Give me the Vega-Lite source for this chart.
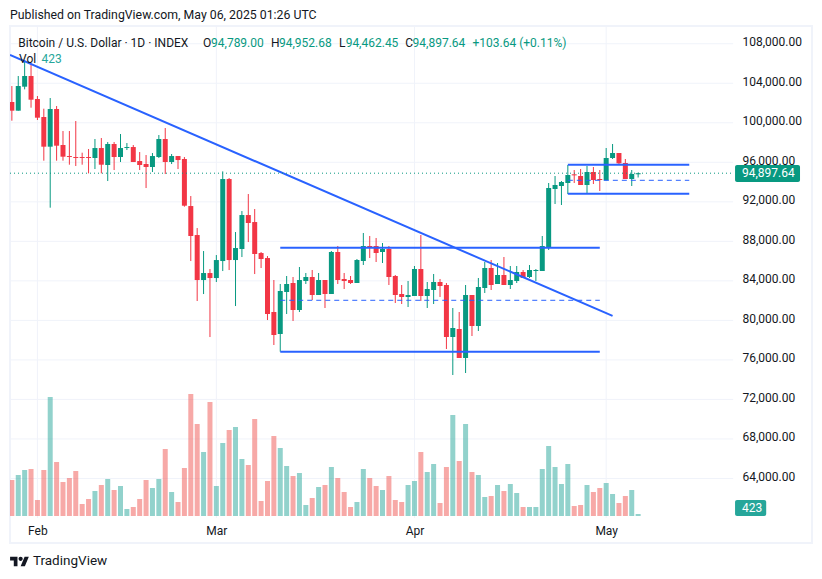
{
  "$schema": "https://vega.github.io/schema/vega-lite/v6.json",
  "width": 802,
  "height": 517,
  "padding": {"left": 10, "top": 26, "right": 10, "bottom": 36},
  "autosize": {"type": "none"},
  "background": "#ffffff",
  "config": {
    "view": {"stroke": "#f0f3fa", "strokeWidth": 2},
    "font": "Roboto",
    "text": {"font": "Roboto"}
  },
  "title": {"text": "Published on TradingView.com, May 06, 2025 01:26 UTC", "anchor": "start", "frame": "group", "offset": 4, "fontSize": 12.3, "fontWeight": "normal", "font": "Roboto", "color": "#131722"},
  "datasets": {
    "candles": [
      {"date":"2025-01-28","open":102101,"high":103721,"low":100212,"close":101224,"volume":7614,"dir":"down"},
      {"date":"2025-01-29","open":101224,"high":104733,"low":101224,"close":103721,"volume":8672,"dir":"up"},
      {"date":"2025-01-30","open":103653,"high":106352,"low":103383,"close":104733,"volume":9729,"dir":"up"},
      {"date":"2025-01-31","open":104733,"high":106015,"low":101528,"close":102337,"volume":9941,"dir":"down"},
      {"date":"2025-02-01","open":102405,"high":102708,"low":100279,"close":100515,"volume":3384,"dir":"down"},
      {"date":"2025-02-02","open":100583,"high":101426,"low":96163,"close":97580,"volume":9729,"dir":"down"},
      {"date":"2025-02-03","open":97580,"high":102506,"low":91406,"close":101393,"volume":25169,"dir":"up"},
      {"date":"2025-02-04","open":101393,"high":101696,"low":96163,"close":97681,"volume":11421,"dir":"down"},
      {"date":"2025-02-05","open":97749,"high":99166,"low":96163,"close":96568,"volume":7191,"dir":"down"},
      {"date":"2025-02-06","open":96635,"high":99166,"low":95758,"close":96534,"volume":8037,"dir":"down"},
      {"date":"2025-02-07","open":96534,"high":100178,"low":95623,"close":96433,"volume":9518,"dir":"down"},
      {"date":"2025-02-08","open":96534,"high":96973,"low":95758,"close":96433,"volume":2538,"dir":"down"},
      {"date":"2025-02-09","open":96534,"high":97344,"low":94881,"close":96433,"volume":3596,"dir":"down"},
      {"date":"2025-02-10","open":96433,"high":98356,"low":95319,"close":97445,"volume":5288,"dir":"up"},
      {"date":"2025-02-11","open":97445,"high":98457,"low":94881,"close":95758,"volume":6557,"dir":"down"},
      {"date":"2025-02-12","open":95724,"high":98052,"low":94105,"close":97850,"volume":7826,"dir":"up"},
      {"date":"2025-02-13","open":97850,"high":98052,"low":95218,"close":96534,"volume":5499,"dir":"down"},
      {"date":"2025-02-14","open":96534,"high":98862,"low":96028,"close":97445,"volume":6345,"dir":"up"},
      {"date":"2025-02-15","open":97445,"high":97951,"low":97243,"close":97546,"volume":1481,"dir":"up"},
      {"date":"2025-02-16","open":97546,"high":97749,"low":96028,"close":96028,"volume":1904,"dir":"down"},
      {"date":"2025-02-17","open":96129,"high":97040,"low":95218,"close":95724,"volume":3596,"dir":"down"},
      {"date":"2025-02-18","open":95826,"high":96737,"low":93396,"close":95522,"volume":7614,"dir":"down"},
      {"date":"2025-02-19","open":95522,"high":96939,"low":95016,"close":96635,"volume":5922,"dir":"up"},
      {"date":"2025-02-20","open":96534,"high":98761,"low":96433,"close":98356,"volume":7826,"dir":"up"},
      {"date":"2025-02-21","open":98356,"high":99469,"low":94813,"close":96028,"volume":14171,"dir":"down"},
      {"date":"2025-02-22","open":96028,"high":96838,"low":95826,"close":96635,"volume":5076,"dir":"up"},
      {"date":"2025-02-23","open":96635,"high":96635,"low":95319,"close":96230,"volume":2961,"dir":"down"},
      {"date":"2025-02-24","open":96332,"high":96534,"low":91507,"close":91608,"volume":10152,"dir":"down"},
      {"date":"2025-02-25","open":91574,"high":92586,"low":86007,"close":88538,"volume":25803,"dir":"down"},
      {"date":"2025-02-26","open":88639,"high":89347,"low":81959,"close":84084,"volume":19458,"dir":"down"},
      {"date":"2025-02-27","open":84084,"high":87019,"low":82667,"close":84793,"volume":13536,"dir":"up"},
      {"date":"2025-02-28","open":84793,"high":85197,"low":78314,"close":84286,"volume":24111,"dir":"down"},
      {"date":"2025-03-01","open":84286,"high":86614,"low":83882,"close":86108,"volume":6345,"dir":"up"},
      {"date":"2025-03-02","open":86007,"high":95083,"low":84995,"close":94307,"volume":15440,"dir":"up"},
      {"date":"2025-03-03","open":94307,"high":94408,"low":85096,"close":86108,"volume":18189,"dir":"down"},
      {"date":"2025-03-04","open":86108,"high":88943,"low":81452,"close":87323,"volume":18824,"dir":"up"},
      {"date":"2025-03-05","open":87222,"high":91068,"low":86412,"close":90663,"volume":12056,"dir":"up"},
      {"date":"2025-03-06","open":90663,"high":92789,"low":87930,"close":89854,"volume":10787,"dir":"down"},
      {"date":"2025-03-07","open":89955,"high":91271,"low":84691,"close":86716,"volume":20516,"dir":"down"},
      {"date":"2025-03-08","open":86817,"high":86918,"low":85299,"close":86210,"volume":3173,"dir":"down"},
      {"date":"2025-03-09","open":86311,"high":86513,"low":80035,"close":80643,"volume":7403,"dir":"down"},
      {"date":"2025-03-10","open":80848,"high":84087,"low":77508,"close":78520,"volume":16920,"dir":"down"},
      {"date":"2025-03-11","open":78622,"high":83683,"low":76833,"close":82974,"volume":14382,"dir":"up"},
      {"date":"2025-03-12","open":82873,"high":84492,"low":80646,"close":83683,"volume":10575,"dir":"up"},
      {"date":"2025-03-13","open":83784,"high":84391,"low":79937,"close":81051,"volume":8460,"dir":"down"},
      {"date":"2025-03-14","open":81051,"high":85403,"low":80848,"close":84087,"volume":9095,"dir":"up"},
      {"date":"2025-03-15","open":83986,"high":84796,"low":83683,"close":84391,"volume":2327,"dir":"up"},
      {"date":"2025-03-16","open":84391,"high":85100,"low":82063,"close":82569,"volume":3807,"dir":"down"},
      {"date":"2025-03-17","open":82569,"high":84796,"low":82569,"close":84087,"volume":6134,"dir":"up"},
      {"date":"2025-03-18","open":84087,"high":84087,"low":81253,"close":82670,"volume":6557,"dir":"down"},
      {"date":"2025-03-19","open":82670,"high":87023,"low":82670,"close":86922,"volume":10364,"dir":"up"},
      {"date":"2025-03-20","open":86922,"high":87529,"low":83683,"close":84087,"volume":8037,"dir":"down"},
      {"date":"2025-03-21","open":84189,"high":84796,"low":83176,"close":83986,"volume":5076,"dir":"down"},
      {"date":"2025-03-22","open":84087,"high":84492,"low":83683,"close":83784,"volume":1904,"dir":"down"},
      {"date":"2025-03-23","open":83784,"high":86213,"low":83784,"close":86112,"volume":2961,"dir":"up"},
      {"date":"2025-03-24","open":86011,"high":88845,"low":85606,"close":87529,"volume":9941,"dir":"up"},
      {"date":"2025-03-25","open":87529,"high":88541,"low":86314,"close":87394,"volume":8037,"dir":"down"},
      {"date":"2025-03-26","open":87529,"high":88339,"low":85909,"close":86820,"volume":6345,"dir":"down"},
      {"date":"2025-03-27","open":86922,"high":87833,"low":85808,"close":87225,"volume":5499,"dir":"up"},
      {"date":"2025-03-28","open":87225,"high":87529,"low":83581,"close":84391,"volume":8460,"dir":"down"},
      {"date":"2025-03-29","open":84492,"high":84593,"low":81759,"close":82569,"volume":3384,"dir":"down"},
      {"date":"2025-03-30","open":82670,"high":83581,"low":81658,"close":82367,"volume":2961,"dir":"down"},
      {"date":"2025-03-31","open":82367,"high":83986,"low":81354,"close":82569,"volume":6557,"dir":"up"},
      {"date":"2025-04-01","open":82468,"high":85504,"low":82468,"close":85201,"volume":7403,"dir":"up"},
      {"date":"2025-04-02","open":85201,"high":88642,"low":81962,"close":82468,"volume":13536,"dir":"down"},
      {"date":"2025-04-03","open":82468,"high":83885,"low":81253,"close":83176,"volume":9306,"dir":"up"},
      {"date":"2025-04-04","open":83075,"high":84695,"low":81658,"close":83885,"volume":10998,"dir":"up"},
      {"date":"2025-04-05","open":83885,"high":84189,"low":82367,"close":83480,"volume":2750,"dir":"down"},
      {"date":"2025-04-06","open":83581,"high":83784,"low":77103,"close":78318,"volume":10364,"dir":"down"},
      {"date":"2025-04-07","open":78318,"high":81253,"low":74471,"close":79229,"volume":21362,"dir":"up"},
      {"date":"2025-04-08","open":79128,"high":80848,"low":76192,"close":76192,"volume":11633,"dir":"down"},
      {"date":"2025-04-09","open":76192,"high":83581,"low":74674,"close":82569,"volume":19458,"dir":"up"},
      {"date":"2025-04-10","open":82569,"high":82569,"low":78419,"close":79431,"volume":9306,"dir":"down"},
      {"date":"2025-04-11","open":79431,"high":84290,"low":78925,"close":83379,"volume":8672,"dir":"up"},
      {"date":"2025-04-12","open":83278,"high":85909,"low":82772,"close":85302,"volume":4019,"dir":"up"},
      {"date":"2025-04-13","open":85302,"high":86112,"low":83075,"close":83581,"volume":4230,"dir":"down"},
      {"date":"2025-04-14","open":83683,"high":85808,"low":83683,"close":84593,"volume":6557,"dir":"up"},
      {"date":"2025-04-15","open":84593,"high":86415,"low":83581,"close":83581,"volume":5288,"dir":"down"},
      {"date":"2025-04-16","open":83580,"high":85503,"low":83175,"close":84086,"volume":6768,"dir":"up"},
      {"date":"2025-04-17","open":83985,"high":85503,"low":83782,"close":84896,"volume":4865,"dir":"up"},
      {"date":"2025-04-18","open":84896,"high":85098,"low":84288,"close":84288,"volume":1904,"dir":"down"},
      {"date":"2025-04-19","open":84390,"high":85604,"low":84288,"close":85098,"volume":1904,"dir":"up"},
      {"date":"2025-04-20","open":84997,"high":85199,"low":83985,"close":85098,"volume":1904,"dir":"up"},
      {"date":"2025-04-21","open":84997,"high":88540,"low":84997,"close":87527,"volume":9941,"dir":"up"},
      {"date":"2025-04-22","open":87325,"high":93904,"low":87123,"close":93398,"volume":14805,"dir":"up"},
      {"date":"2025-04-23","open":93297,"high":94613,"low":91779,"close":93702,"volume":10364,"dir":"up"},
      {"date":"2025-04-24","open":93601,"high":94107,"low":91678,"close":94006,"volume":6768,"dir":"up"},
      {"date":"2025-04-25","open":93904,"high":95726,"low":92791,"close":94714,"volume":10998,"dir":"up"},
      {"date":"2025-04-26","open":94782,"high":95220,"low":93904,"close":94680,"volume":2115,"dir":"down"},
      {"date":"2025-04-27","open":94613,"high":95321,"low":93702,"close":93702,"volume":2327,"dir":"down"},
      {"date":"2025-04-28","open":93702,"high":95625,"low":92892,"close":95018,"volume":6557,"dir":"up"},
      {"date":"2025-04-29","open":95018,"high":95524,"low":93803,"close":94208,"volume":5076,"dir":"down"},
      {"date":"2025-04-30","open":94309,"high":95220,"low":93095,"close":94208,"volume":5922,"dir":"down"},
      {"date":"2025-05-01","open":94174,"high":97447,"low":94174,"close":96435,"volume":6980,"dir":"up"},
      {"date":"2025-05-02","open":96435,"high":97852,"low":96334,"close":96941,"volume":4653,"dir":"up"},
      {"date":"2025-05-03","open":96941,"high":96941,"low":95726,"close":95895,"volume":2750,"dir":"down"},
      {"date":"2025-05-04","open":95929,"high":96334,"low":94309,"close":94309,"volume":4230,"dir":"down"},
      {"date":"2025-05-05","open":94309,"high":95220,"low":93601,"close":94815,"volume":5499,"dir":"up"},
      {"date":"2025-05-06","open":94789,"high":94952.68,"low":94462.45,"close":94897.64,"volume":423,"dir":"up"}
    ],
    "grid": [
      {"price":108000},{"price":104000},{"price":100000},{"price":96000},{"price":92000},{"price":88000},
      {"price":84000},{"price":80000},{"price":76000},{"price":72000},{"price":68000},{"price":64000}
    ],
    "months": [{"date":"2025-02-01"},{"date":"2025-03-01"},{"date":"2025-04-01"},{"date":"2025-05-01"}],
    "solid_lines": [
      {"start":"2025-01-27T17:00:00Z","end":"2025-05-02T00:00:00Z","from":106859,"to":80450},
      {"start":"2025-03-11T00:00:00Z","end":"2025-04-30T00:00:00Z","from":87358,"to":87358},
      {"start":"2025-03-11T00:00:00Z","end":"2025-04-30T00:00:00Z","from":76833,"to":76833},
      {"start":"2025-04-25T00:00:00Z","end":"2025-05-14T00:00:00Z","from":95757,"to":95757},
      {"start":"2025-04-25T00:00:00Z","end":"2025-05-14T00:00:00Z","from":92822,"to":92822}
    ],
    "dashed_lines": [
      {"start":"2025-03-11T00:00:00Z","end":"2025-04-30T00:00:00Z","from":82034,"to":82034},
      {"start":"2025-04-25T00:00:00Z","end":"2025-05-14T00:00:00Z","from":94178,"to":94178}
    ],
    "header": [
      {"label":"Bitcoin / U.S. Dollar · 1D · INDEX","date":"2025-01-29T00:00:00Z","price":108074,"tone":"ink"},
      {"label":"O","date":"2025-02-26T22:00:00Z","price":108074,"tone":"ink"},
      {"label":"94,789.00","date":"2025-02-28T04:00:00Z","price":108074,"tone":"value"},
      {"label":"H","date":"2025-03-09T13:00:00Z","price":108074,"tone":"ink"},
      {"label":"94,952.68","date":"2025-03-10T19:00:00Z","price":108074,"tone":"value"},
      {"label":"L","date":"2025-03-20T05:00:00Z","price":108074,"tone":"ink"},
      {"label":"94,462.45","date":"2025-03-21T05:30:00Z","price":108074,"tone":"value"},
      {"label":"C","date":"2025-03-30T13:00:00Z","price":108074,"tone":"ink"},
      {"label":"94,897.64","date":"2025-03-31T17:00:00Z","price":108074,"tone":"value"},
      {"label":"+103.64 (+0.11%)","date":"2025-04-10T02:00:00Z","price":108074,"tone":"value"},
      {"label":"Vol","date":"2025-01-29T03:00:00Z","price":106454,"tone":"ink"},
      {"label":"423","date":"2025-02-01T15:00:00Z","price":106454,"tone":"vol"}
    ]
  },
  "encoding": {
    "x": {
      "type": "temporal",
      "scale": {
        "type": "utc",
        "padding": 0,
        "domain": [
          {"year": 2025, "month": 1, "date": 27, "hours": 17, "utc": true},
          {"year": 2025, "month": 6, "date": 2, "hours": 5, "utc": true}
        ]
      },
      "axis": {
        "orient": "bottom", "offset": -24, "values": [
          {"year": 2025, "month": 2, "date": 1, "utc": true},
          {"year": 2025, "month": 3, "date": 1, "utc": true},
          {"year": 2025, "month": 4, "date": 1, "utc": true},
          {"year": 2025, "month": 5, "date": 1, "utc": true}
        ],
        "format": "%b", "grid": false, "domain": false, "ticks": false, "title": null, "labelPadding": 6,
        "labelFontSize": 12, "labelColor": "#131722", "labelFont": "Roboto", "labelAngle": 0
      }
    }
  },
  "layer": [
    {
      "encoding": {
        "y": {"type": "quantitative", "scale": {"domain": [57468, 109796]}, "axis": null}
      },
      "layer": [
        {
          "data": {"name": "months"},
          "mark": {"type": "rule", "color": "#f0f3fa", "strokeWidth": 1},
          "encoding": {
            "x": {"field": "date", "type": "temporal"},
            "y": {"datum": 109796, "type": "quantitative"},
            "y2": {"datum": 60000}
          }
        },
        {
          "data": {"name": "grid"},
          "mark": {"type": "rule", "color": "#f0f3fa", "strokeWidth": 1},
          "encoding": {
            "x": {"datum": {"year": 2025, "month": 1, "date": 27, "hours": 17, "utc": true}, "type": "temporal"},
            "x2": {"datum": {"year": 2025, "month": 5, "date": 20, "hours": 21, "utc": true}},
            "y": {"field": "price", "type": "quantitative"}
          }
        }
      ]
    },
    {
      "data": {"name": "candles"},
      "mark": {"type": "bar", "size": 5, "opacity": 0.5, "clip": true},
      "encoding": {
        "x": {"field": "date", "type": "temporal"},
        "y": {"field": "volume", "type": "quantitative", "scale": {"domain": [-5710, 103635]}, "axis": null},
        "y2": {"datum": 0},
        "color": {"field": "dir", "type": "nominal", "scale": {"domain": ["up", "down"], "range": ["#26a69a", "#ef5350"]}, "legend": null}
      }
    },
    {
      "encoding": {
        "y": {
          "type": "quantitative",
          "scale": {"domain": [57468, 109796]},
          "axis": {
            "orient": "right", "offset": -80, "values": [108000,104000,100000,96000,92000,88000,84000,80000,76000,72000,68000,64000],
            "format": ",.2f", "grid": false, "domain": false, "ticks": false, "title": null,
            "labelPadding": 10, "labelFontSize": 12, "labelColor": "#131722", "labelOffset": -2, "labelFont": "Roboto"
          }
        }
      },
      "layer": [
        {
          "data": {"name": "candles"},
          "mark": {"type": "rule", "strokeWidth": 1, "clip": true},
          "encoding": {
            "x": {"field": "date", "type": "temporal"},
            "y": {"field": "low", "type": "quantitative"},
            "y2": {"field": "high"},
            "color": {"field": "dir", "type": "nominal", "scale": {"domain": ["up", "down"], "range": ["#089981", "#f23645"]}, "legend": null}
          }
        },
        {
          "data": {"name": "candles"},
          "mark": {"type": "bar", "size": 5, "clip": true},
          "encoding": {
            "x": {"field": "date", "type": "temporal"},
            "y": {"field": "open", "type": "quantitative"},
            "y2": {"field": "close"},
            "color": {"field": "dir", "type": "nominal", "scale": {"domain": ["up", "down"], "range": ["#089981", "#f23645"]}, "legend": null}
          }
        },
        {
          "data": {"name": "solid_lines"},
          "mark": {"type": "rule", "color": "#2962ff", "strokeWidth": 2, "clip": true},
          "encoding": {
            "x": {"field": "start", "type": "temporal"},
            "x2": {"field": "end"},
            "y": {"field": "from", "type": "quantitative"},
            "y2": {"field": "to"}
          }
        },
        {
          "data": {"name": "dashed_lines"},
          "mark": {"type": "rule", "color": "#2962ff", "strokeWidth": 1, "strokeDash": [5, 4]},
          "encoding": {
            "x": {"field": "start", "type": "temporal"},
            "x2": {"field": "end"},
            "y": {"field": "from", "type": "quantitative"}
          }
        },
        {
          "data": {"values": [{"close": 94897.64}]},
          "mark": {"type": "rule", "color": "#089981", "strokeWidth": 1, "strokeDash": [1, 3]},
          "encoding": {
            "x": {"datum": {"year": 2025, "month": 1, "date": 27, "hours": 17, "utc": true}, "type": "temporal"},
            "x2": {"datum": {"year": 2025, "month": 5, "date": 20, "hours": 21, "utc": true}},
            "y": {"field": "close", "type": "quantitative"}
          }
        },
        {
          "data": {"name": "header"},
          "transform": [{"filter": "datum.tone === 'ink'"}],
          "mark": {"type": "text", "align": "left", "baseline": "middle", "fontSize": 12, "font": "Roboto", "color": "#131722"},
          "encoding": {
            "x": {"field": "date", "type": "temporal"},
            "y": {"field": "price", "type": "quantitative"},
            "text": {"field": "label"}
          }
        },
        {
          "data": {"name": "header"},
          "transform": [{"filter": "datum.tone === 'value'"}],
          "mark": {"type": "text", "align": "left", "baseline": "middle", "fontSize": 12, "font": "Roboto", "color": "#089981"},
          "encoding": {
            "x": {"field": "date", "type": "temporal"},
            "y": {"field": "price", "type": "quantitative"},
            "text": {"field": "label"}
          }
        },
        {
          "data": {"name": "header"},
          "transform": [{"filter": "datum.tone === 'vol'"}],
          "mark": {"type": "text", "align": "left", "baseline": "middle", "fontSize": 12, "font": "Roboto", "color": "#26a69a"},
          "encoding": {
            "x": {"field": "date", "type": "temporal"},
            "y": {"field": "price", "type": "quantitative"},
            "text": {"field": "label"}
          }
        },
        {
          "data": {"values": [{"label": "94,897.64", "top": 95727, "bottom": 94006}]},
          "mark": {"type": "rect", "color": "#089981", "cornerRadius": 2},
          "encoding": {
            "x": {"datum": {"year": 2025, "month": 5, "date": 21, "hours": 4, "utc": true}, "type": "temporal"},
            "x2": {"datum": {"year": 2025, "month": 5, "date": 31, "hours": 8, "utc": true}},
            "y": {"field": "top", "type": "quantitative"},
            "y2": {"field": "bottom"}
          }
        },
        {
          "data": {"values": [{"label": "94,897.64", "price": 94950}]},
          "mark": {"type": "text", "align": "left", "baseline": "middle", "fontSize": 12, "color": "#ffffff", "font": "Roboto"},
          "encoding": {
            "x": {"datum": {"year": 2025, "month": 5, "date": 22, "hours": 6, "utc": true}, "type": "temporal"},
            "y": {"field": "price", "type": "quantitative"},
            "text": {"field": "label"}
          }
        },
        {
          "data": {"values": [{"label": "423", "top": 61825, "bottom": 60206}]},
          "mark": {"type": "rect", "color": "#26a69a", "cornerRadius": 2},
          "encoding": {
            "x": {"datum": {"year": 2025, "month": 5, "date": 21, "hours": 4, "utc": true}, "type": "temporal"},
            "x2": {"datum": {"year": 2025, "month": 5, "date": 26, "hours": 1, "utc": true}},
            "y": {"field": "top", "type": "quantitative"},
            "y2": {"field": "bottom"}
          }
        },
        {
          "data": {"values": [{"label": "423", "price": 61015}]},
          "mark": {"type": "text", "align": "left", "baseline": "middle", "fontSize": 12, "color": "#ffffff", "font": "Roboto"},
          "encoding": {
            "x": {"datum": {"year": 2025, "month": 5, "date": 22, "hours": 6, "utc": true}, "type": "temporal"},
            "y": {"field": "price", "type": "quantitative"},
            "text": {"field": "label"}
          }
        },
        {
          "data": {"values": [{"label": "TradingView", "price": 55600}]},
          "mark": {"type": "text", "align": "left", "baseline": "middle", "fontSize": 13.5, "color": "#131722", "font": "Roboto"},
          "encoding": {
            "x": {"datum": {"year": 2025, "month": 1, "date": 31, "hours": 7, "utc": true}, "type": "temporal"},
            "y": {"field": "price", "type": "quantitative"},
            "text": {"field": "label"}
          }
        },
        {
          "data": {"values": [{"label": "TradingView logo", "price": 55600}]},
          "mark": {
            "type": "point", "filled": true, "opacity": 1, "size": 361, "color": "#131722",
            "shape": "M-0.222 0.5H-0.611V-0.111H-1V-0.5H-0.222ZM0.556 0.5H0.111L0.528 -0.5H0.972ZM-0.111 -0.278A0.222 0.222 0 1 0 0.333 -0.278A0.222 0.222 0 1 0 -0.111 -0.278Z"
          },
          "encoding": {
            "x": {"datum": {"year": 2025, "month": 1, "date": 29, "hours": 5, "utc": true}, "type": "temporal"},
            "y": {"field": "price", "type": "quantitative"}
          }
        }
      ]
    }
  ],
  "resolve": {"scale": {"y": "independent", "color": "independent"}}
}
